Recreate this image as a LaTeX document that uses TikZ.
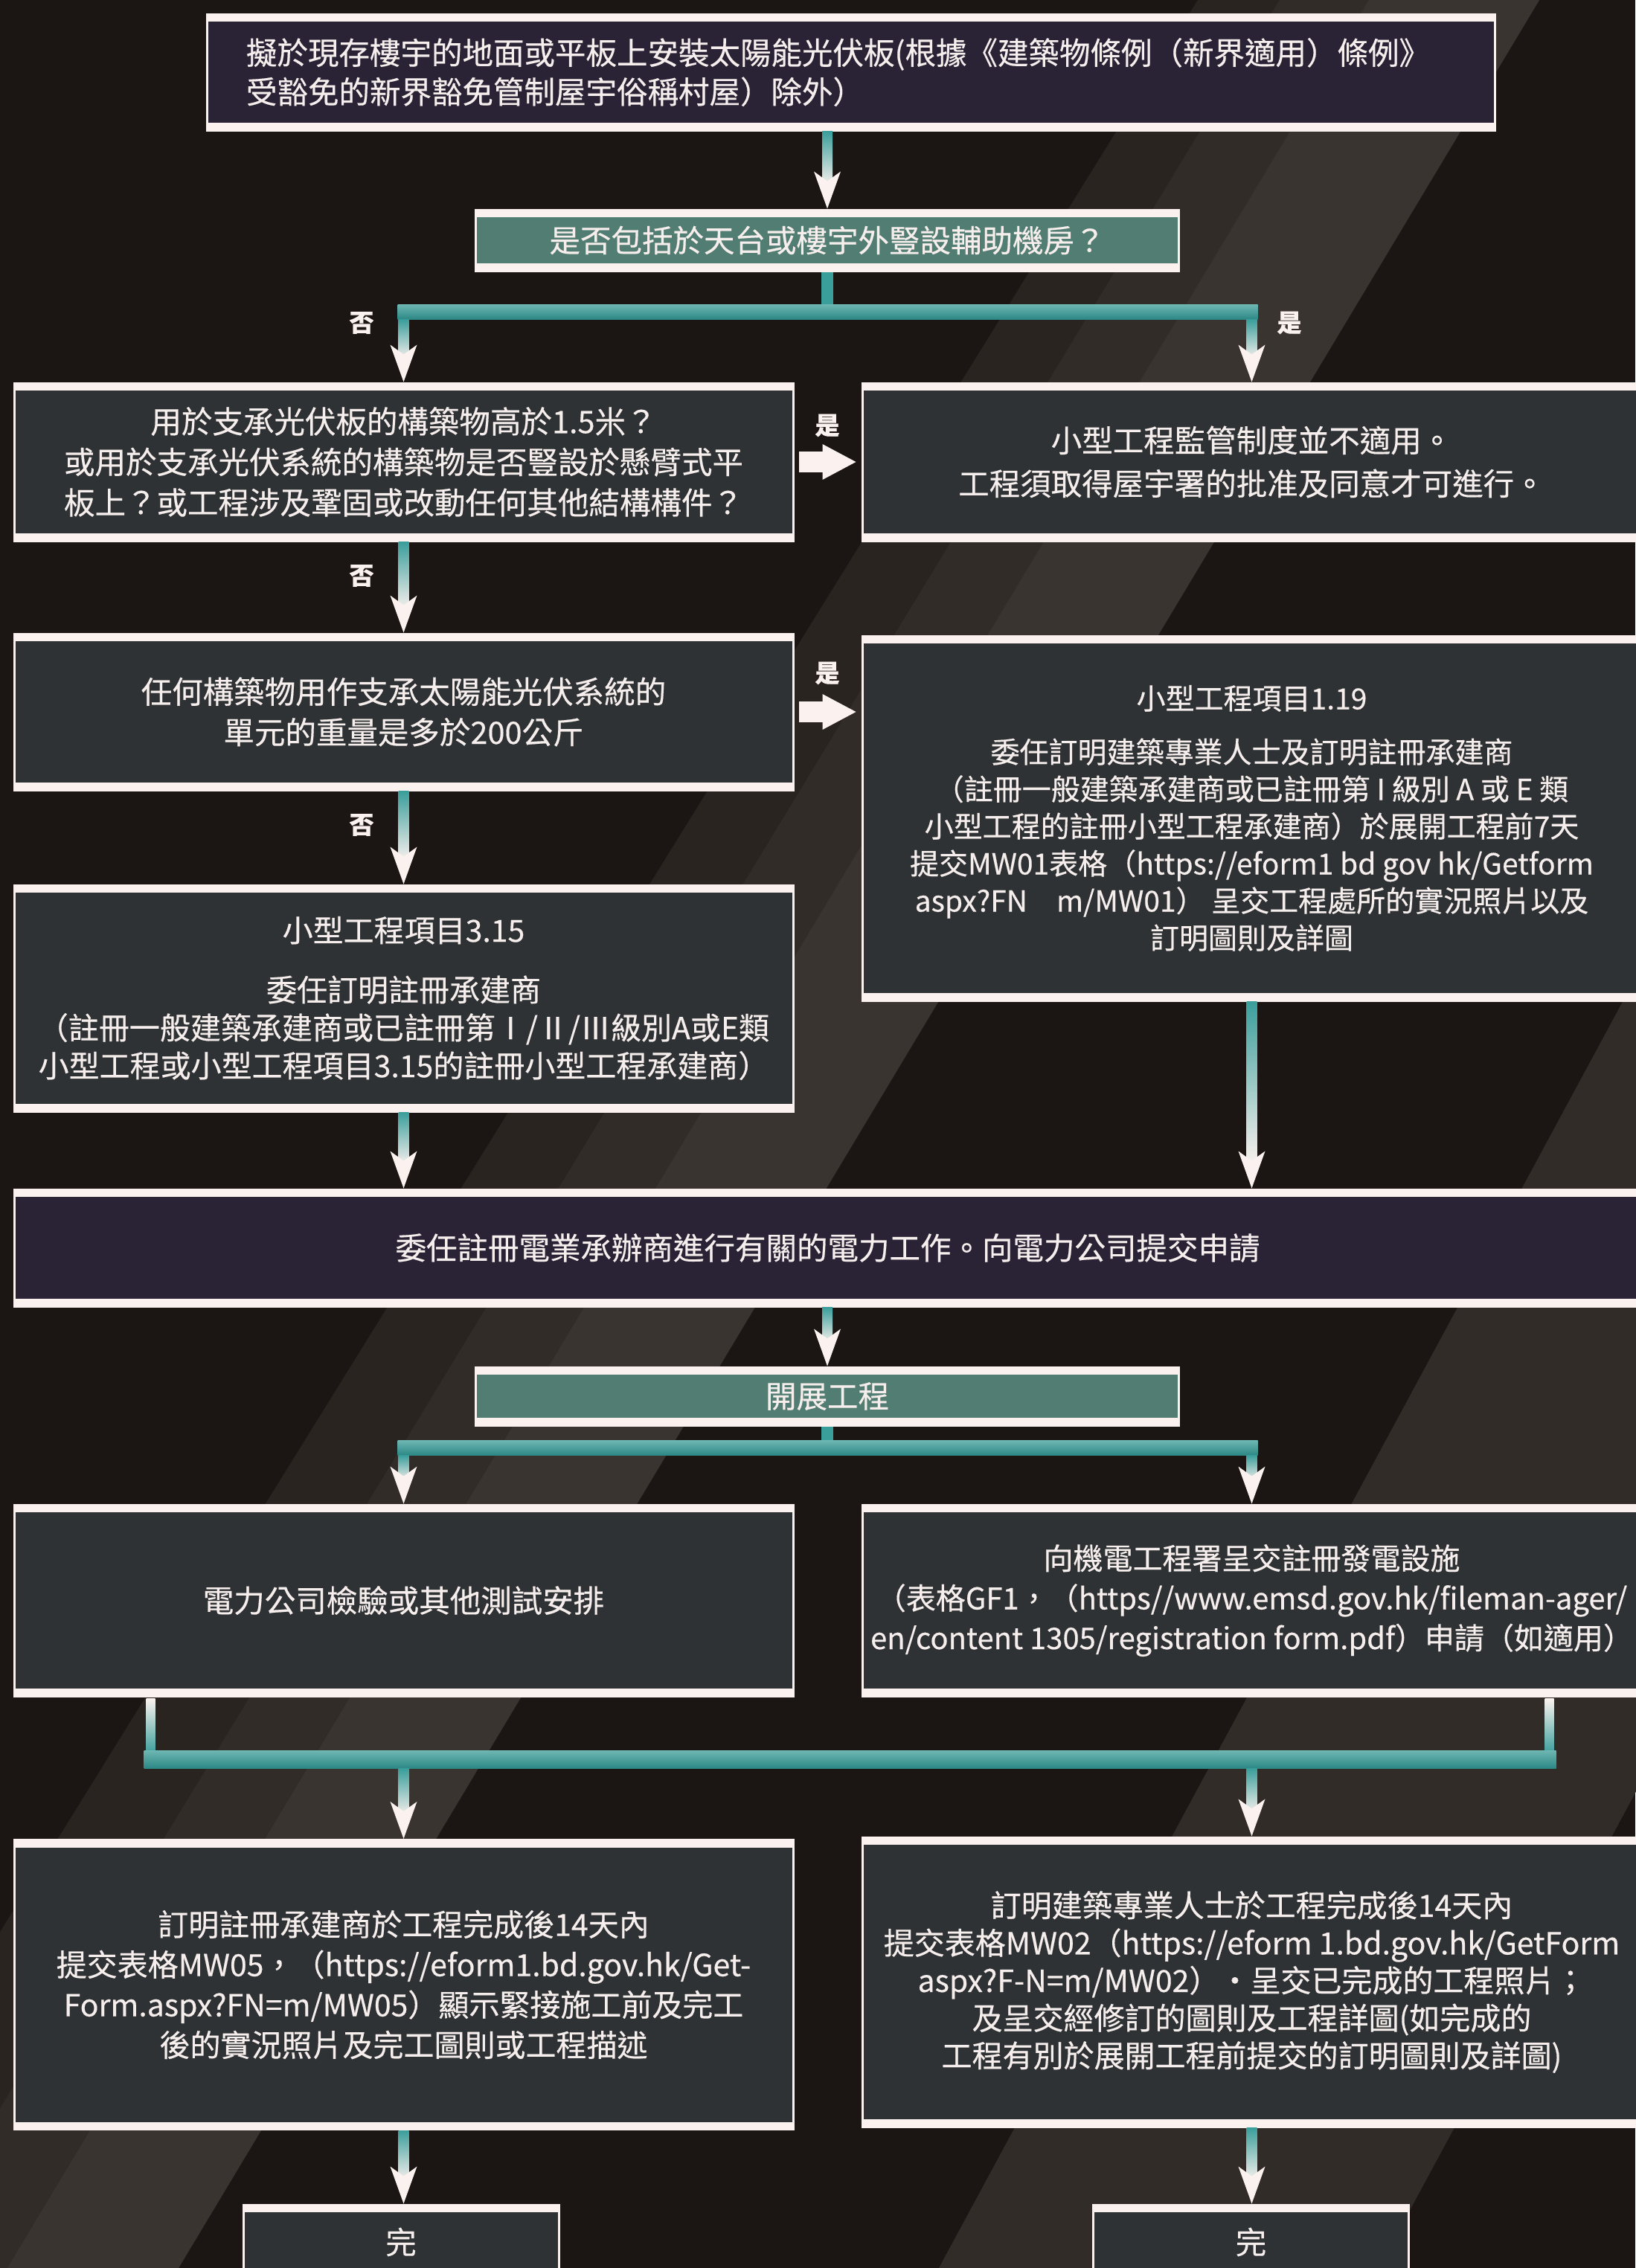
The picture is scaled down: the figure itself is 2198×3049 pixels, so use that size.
\documentclass[tikz,border=0pt]{standalone}
\usepackage{fontspec}
\setmainfont{Noto Sans CJK TC}[FakeBold=0.4]
\usetikzlibrary{calc}
\definecolor{bgc}{HTML}{1B1613}
\definecolor{bandc}{HTML}{2A2421}
\definecolor{bandm}{HTML}{322C29}
\definecolor{bandl}{HTML}{3A3431}
\definecolor{darkbox}{HTML}{2E3234}
\definecolor{purplebox}{HTML}{2A2336}
\definecolor{tealbox}{HTML}{527D72}
\definecolor{tealc}{HTML}{3A9E9B}
\definecolor{teall}{HTML}{6DB6B2}
\definecolor{teald}{HTML}{2B8784}
\definecolor{framec}{HTML}{FBF2EF}
\definecolor{txtc}{HTML}{F6EEEC}
\tikzset{
 fr/.style={rectangle, inner sep=0pt, line width=3pt, draw=framec, fill=#1, text=txtc, align=center,
   font=\fontsize{41.5pt}{54.5pt}\selectfont,
   path picture={
     \fill[framec] ([xshift=-4pt,yshift=4pt]path picture bounding box.north west) rectangle ([xshift=4pt,yshift=-10pt]path picture bounding box.north east);
     \fill[framec] ([xshift=-4pt,yshift=-4pt]path picture bounding box.south west) rectangle ([xshift=4pt,yshift=10pt]path picture bounding box.south east);
   }},
 lbl/.style={text=framec, font=\fontsize{33pt}{33pt}\selectfont\bfseries, inner sep=0pt},
}
\newcommand\varr[2]{%
  \shade[top color=tealc, bottom color=framec] ($#1+(-7,0)$) rectangle ($#2+(7,-30)$);
  \fill[framec] ($#2+(-18,-50)$) -- #2 -- ($#2+(18,-50)$) -- ($#2+(0,-37)$) -- cycle;
}
\newcommand\harr[2]{%
  \fill[framec] ($#1+(6,-14)$) rectangle ($#2+(-48,14)$);
  \fill[framec] ($#2+(-52,-24)$) -- ($#2+(-7,0)$) -- ($#2+(-52,24)$) -- cycle;
}
\begin{document}
\begin{tikzpicture}[x=1pt,y=-1pt]
\useasboundingbox (0,0) rectangle (2198,3049);
\fill[bgc] (0,0) rectangle (2198,3049);
% background bands
\fill[bandc] (1610,0) -- (2069,0) -- (240,3049) -- (-280,3049) -- cycle;
\fill[bandm] (1720,0) -- (2069,0) -- (240,3049) -- (-130,3049) -- cycle;
\fill[bandl] (1840,0) -- (2069,0) -- (240,3049) -- (10,3049) -- cycle;
\fill[bandm] (2908,0) -- (3500,0) -- (1853,3049) -- (1262,3049) -- cycle;

% boxes
\node[fr=purplebox, minimum width=1731pt, minimum height=156pt, text width=1625pt, align=left,
      font=\fontsize{41.5pt}{52.5pt}\selectfont] (b1) at (1143.5,97)
 {擬於現存樓宇的地面或平板上安裝太陽能光伏板(根據《建築物條例（新界適用）條例》\\受豁免的新界豁免管制屋宇俗稱村屋）除外）};
\node[fr=tealbox, minimum width=945pt, minimum height=82pt] (b2) at (1112,323)
 {是否包括於天台或樓宇外豎設輔助機房？};
\node[fr=darkbox, minimum width=1047pt, minimum height=212pt] (b3) at (542.5,621)
 {用於支承光伏板的構築物高於1.5米？\\或用於支承光伏系統的構築物是否豎設於懸臂式平\\板上？或工程涉及鞏固或改動任何其他結構構件？};
\node[fr=darkbox, minimum width=1047pt, minimum height=212pt, font=\fontsize{41.5pt}{58pt}\selectfont] (b4) at (1682.5,621)
 {小型工程監管制度並不適用。\\工程須取得屋宇署的批准及同意才可進行。};
\node[fr=darkbox, minimum width=1047pt, minimum height=210pt] (b5) at (542.5,957)
 {任何構築物用作支承太陽能光伏系統的\\單元的重量是多於200公斤};
\node[fr=darkbox, minimum width=1047pt, minimum height=490pt, font=\fontsize{39pt}{50pt}\selectfont] (b6) at (1682.5,1100)
 {小型工程項目1.19\\[22pt]委任訂明建築專業人士及訂明註冊承建商\\（註冊一般建築承建商或已註冊第 I 級別 A 或 E 類\\小型工程的註冊小型工程承建商）於展開工程前7天\\提交MW01表格（https://eform1 bd gov hk/Getform\\aspx?FN　m/MW01） 呈交工程處所的實況照片以及\\訂明圖則及詳圖};
\node[fr=darkbox, minimum width=1047pt, minimum height=304pt, font=\fontsize{41pt}{51pt}\selectfont] (b7) at (542.5,1342)
 {小型工程項目3.15\\[29pt]委任訂明註冊承建商\\（註冊一般建築承建商或已註冊第Ⅰ/Ⅱ/Ⅲ級別A或E類\\小型工程或小型工程項目3.15的註冊小型工程承建商）};
\node[fr=purplebox, minimum width=2187pt, minimum height=157pt] (b8) at (1112.5,1677.5)
 {委任註冊電業承辦商進行有關的電力工作。向電力公司提交申請};
\node[fr=tealbox, minimum width=945pt, minimum height=78pt] (b9) at (1112,1877) {開展工程};
\node[fr=darkbox, minimum width=1047pt, minimum height=257pt] (b10) at (542.5,2151.5)
 {電力公司檢驗或其他測試安排};
\node[fr=darkbox, minimum width=1047pt, minimum height=257pt, font=\fontsize{40pt}{53.5pt}\selectfont] (b11) at (1682.5,2151.5)
 {向機電工程署呈交註冊發電設施\\（表格GF1，（https//www.emsd.gov.hk/fileman-ager/\\en/content 1305/registration form.pdf）申請（如適用）};
\node[fr=darkbox, minimum width=1047pt, minimum height=389pt, font=\fontsize{41pt}{54pt}\selectfont] (b12) at (542.5,2668)
 {訂明註冊承建商於工程完成後14天內\\提交表格MW05，（https://eform1.bd.gov.hk/Get-\\Form.aspx?FN=m/MW05）顯示緊接施工前及完工\\後的實況照片及完工圖則或工程描述};
\node[fr=darkbox, minimum width=1047pt, minimum height=389pt, font=\fontsize{41pt}{50.5pt}\selectfont] (b13) at (1682.5,2664.5)
 {訂明建築專業人士於工程完成後14天內\\提交表格MW02（https://eform 1.bd.gov.hk/GetForm\\aspx?F-N=m/MW02）·呈交已完成的工程照片；\\及呈交經修訂的圖則及工程詳圖(如完成的\\工程有別於展開工程前提交的訂明圖則及詳圖)};
\node[fr=darkbox, minimum width=424pt, minimum height=100pt] (b14) at (539,3014) {完};
\node[fr=darkbox, minimum width=424pt, minimum height=100pt] (b15) at (1681.5,3014) {完};

% connectors
\varr{(b1.south -| b2.north)}{(b2.north)}
% branch after b2
\coordinate (s1) at ($(b2.south)+(0,44)$);
\fill[tealc] ($(b2.south)+(-8,0)$) rectangle ($(s1)+(8,2)$);
\shade[top color=teall, bottom color=teald] ($(s1 -| b3.north)+(-8,0)$) rectangle ($(s1 -| b4.north)+(8,20)$);
\coordinate (a1) at ($(s1 -| b3.north)+(0,20)$);
\coordinate (a2) at ($(s1 -| b4.north)+(0,20)$);
\varr{(a1)}{(b3.north)}
\varr{(a2)}{(b4.north)}
\node[lbl] (n1) at (486,434) {否};
\node[lbl] (y1) at (1733,434) {是};

\varr{(b3.south)}{(b5.north)}
\node[lbl] (n2) at (486,774) {否};
\harr{(b3.east)}{(b4.west)}
\node[lbl] (y2) at (1112,572) {是};

\varr{(b5.south)}{(b7.north)}
\node[lbl] (n3) at (486,1109) {否};
\coordinate (h2) at (b5.east -| b6.west);
\harr{(b5.east)}{(h2)}
\node[lbl] (y3) at (1112,905) {是};

\varr{(b7.south)}{(b7.south |- b8.north)}
\varr{(b6.south)}{(b6.south |- b8.north)}
\varr{(b8.south -| b9.north)}{(b9.north)}

% branch after b9
\coordinate (s2) at ($(b9.south)+(0,19)$);
\fill[tealc] ($(b9.south)+(-8,0)$) rectangle ($(s2)+(8,2)$);
\shade[top color=teall, bottom color=teald] ($(s2 -| b10.north)+(-8,0)$) rectangle ($(s2 -| b11.north)+(8,20)$);
\coordinate (a3) at ($(s2 -| b10.north)+(0,20)$);
\coordinate (a4) at ($(s2 -| b11.north)+(0,20)$);
\varr{(a3)}{(b10.north)}
\varr{(a4)}{(b11.north)}

% merge after b10/b11
\coordinate (m1) at ($(b10.south west)+(185,0)$);
\coordinate (m2) at ($(b11.south east)+(-125,0)$);
\coordinate (mb) at ($(b10.south)+(0,72)$);
\shade[top color=framec, bottom color=tealc] ($(m1)+(-6,2)$) rectangle ($(m1 |- mb)+(6,4)$);
\shade[top color=framec, bottom color=tealc] ($(m2)+(-6,2)$) rectangle ($(m2 |- mb)+(6,4)$);
\shade[top color=teall, bottom color=teald] ($(m1 |- mb)+(-9,0)$) rectangle ($(m2 |- mb)+(9,24)$);
\coordinate (a5) at ($(mb -| b12.north)+(0,24)$);
\coordinate (a6) at ($(mb -| b13.north)+(0,24)$);
\varr{(a5)}{(b12.north)}
\varr{(a6)}{(b13.north)}

\varr{(b12.south)}{(b12.south |- b14.north)}
\varr{(b13.south)}{(b13.south |- b15.north)}
\end{tikzpicture}
\end{document}
